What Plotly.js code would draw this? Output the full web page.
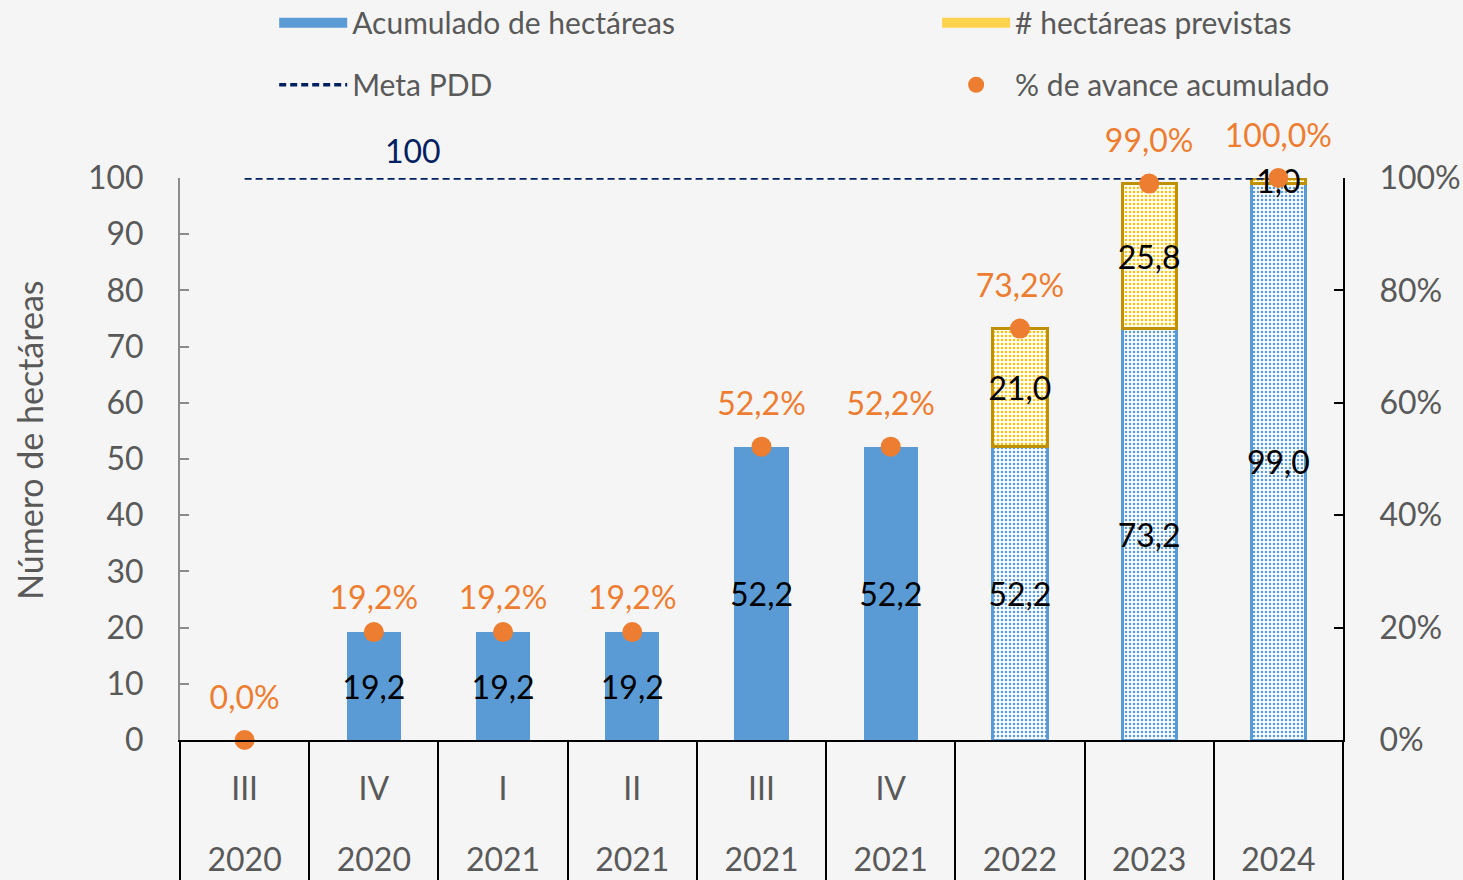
<!DOCTYPE html>
<html><head><meta charset="utf-8">
<script src="https://cdn.plot.ly/plotly-3.0.1.min.js"></script>
<style>html,body{margin:0;padding:0;background:#f5f5f5}</style>
</head><body><div id="chart" style="width:1463px;height:880px"></div>
<script>
const quarters = ['III','IV','I','II','III','IV',' ',' ',' '];
const years = ['2020','2020','2021','2021','2021','2021','2022','2023','2024'];
const acumulado = [0, 19.2, 19.2, 19.2, 52.2, 52.2, 52.2, 73.2, 99.0];
const previstas = [null, null, null, null, null, null, 21.0, 25.8, 1.0];
const metaPDD = [100, 100, 100, 100, 100, 100, 100, 100, 100];
const avance = [0, 0.192, 0.192, 0.192, 0.522, 0.522, 0.732, 0.990, 1.000];
const projected = [false, false, false, false, false, false, true, true, true];
const yTitle = 'Número de hectáreas';

const cats = quarters.map((q, i) => q + ' ' + years[i] + ' ' + i);
const empty = cats.map(() => null);
const fmt = v => v.toFixed(1).replace('.', ',');
const FONT = 'Lato, "Open Sans", sans-serif';
const BLUE = '#5B9BD5', GOLD = '#BF9000', YEL = '#FFC000', ORANGE = '#ED7D31', NAVY = '#002060', GRAY = '#595959';
const NUM = 32, TXT = 30;
// label clearance (invisible marker size) per point, as placed in the original
const labelGap = avance.map(v => (v > 0.15 && v < 0.2) ? 22 : 36);

const traces = [
  {
    type: 'bar', name: 'Acumulado de hectáreas', x: cats, y: acumulado, showlegend: false,
    text: acumulado.map(v => v > 0 ? fmt(v) : ''), textposition: 'inside', insidetextanchor: 'middle',
    textangle: 0, constraintext: 'none', cliponaxis: false,
    textfont: {family: FONT, size: NUM, color: '#000'},
    marker: {
      color: BLUE,
      line: {color: BLUE, width: projected.map(p => p ? 3 : 0)},
      pattern: {shape: projected.map(p => p ? '.' : ''), fillmode: 'replace', fgcolor: BLUE, bgcolor: '#ffffff', size: 4, solidity: 0.33}
    },
    hoverinfo: 'skip'
  },
  {
    type: 'bar', name: '# hectáreas previstas', x: cats, y: previstas, showlegend: false,
    text: previstas.map(v => v == null ? '' : fmt(v)), textposition: 'inside', insidetextanchor: 'middle',
    textangle: 0, constraintext: 'none', cliponaxis: false,
    textfont: {family: FONT, size: NUM, color: '#000'},
    marker: {
      color: YEL,
      line: {color: GOLD, width: 3},
      pattern: {shape: '.', fillmode: 'replace', fgcolor: YEL, bgcolor: '#ffffff', size: 4, solidity: 0.33}
    },
    hoverinfo: 'skip'
  },
  // legend swatches (wide rectangles like the original)
  {type: 'scatter', mode: 'lines', name: 'Acumulado de hectáreas', x: cats, y: empty,
   legend: 'legend', legendgroup: 'a', line: {color: BLUE, width: 18}, hoverinfo: 'skip'},
  {type: 'scatter', mode: 'lines', name: '# hectáreas previstas', x: cats, y: empty,
   legend: 'legend2', legendgroup: 'b', line: {color: '#FFD34D', width: 18}, hoverinfo: 'skip'},
  {
    type: 'scatter', mode: 'lines', name: 'Meta PDD', x: cats, y: metaPDD,
    legend: 'legend', legendgroup: 'c',
    line: {color: NAVY, width: 3.5, dash: '7px,4px'}, cliponaxis: false, hoverinfo: 'skip'
  },
  {
    type: 'scatter', mode: 'markers', name: '% de avance acumulado', x: cats, y: avance, yaxis: 'y2',
    legend: 'legend2', legendgroup: 'd',
    marker: {color: ORANGE, size: 20}, cliponaxis: false, hoverinfo: 'skip'
  },
  {
    type: 'scatter', mode: 'markers+text', x: cats, y: avance, yaxis: 'y2', showlegend: false,
    marker: {color: ORANGE, size: labelGap, opacity: 0},
    texttemplate: '%{y:.1%}', textposition: 'top center',
    textfont: {family: FONT, size: NUM, color: ORANGE}, cliponaxis: false, hoverinfo: 'skip'
  },
  // invisible carriers for the divider axis and the year-label axis
  {type: 'scatter', mode: 'none', x: cats, y: acumulado, xaxis: 'x2', showlegend: false, hoverinfo: 'skip'},
  {type: 'scatter', mode: 'none', x: cats, y: acumulado, xaxis: 'x3', showlegend: false, hoverinfo: 'skip'}
];

const legendBase = {xanchor: 'left', yanchor: 'top', orientation: 'v', traceorder: 'grouped',
  tracegroupgap: 20, itemwidth: 68, bgcolor: 'rgba(0,0,0,0)', font: {family: FONT, size: TXT, color: GRAY}};

const layout = {
  width: 1463, height: 880,
  margin: {l: 180, r: 120, t: 178, b: 140, autoexpand: false},
  paper_bgcolor: '#f5f5f5', plot_bgcolor: 'rgba(0,0,0,0)',
  separators: ',.',
  font: {family: FONT, size: TXT, color: GRAY},
  barmode: 'stack', bargap: 0.58,
  showlegend: true,
  legend: Object.assign({x: 0.081, y: 1.3225}, legendBase),
  legend2: Object.assign({x: 0.651, y: 1.3225}, legendBase),
  xaxis: {
    type: 'category', range: [-0.5, 8.5], showline: true, linecolor: '#000', linewidth: 2,
    ticks: '', showgrid: false, tickfont: {family: FONT, size: NUM, color: GRAY}, ticklabelstandoff: 20,
    tickangle: 0, tickvals: cats, ticktext: quarters
  },
  xaxis2: {
    overlaying: 'x', anchor: 'y', side: 'bottom', type: 'category', range: [-0.5, 8.5],
    tickson: 'boundaries', ticks: 'outside', ticklen: 150, tickwidth: 2, tickcolor: '#000',
    showticklabels: false, showgrid: false, zeroline: false, showline: false
  },
  xaxis3: {
    overlaying: 'x', anchor: 'y', side: 'bottom', type: 'category', range: [-0.5, 8.5],
    ticks: '', showticklabels: true, ticklabelstandoff: 98, showgrid: false, zeroline: false, showline: false,
    tickfont: {family: FONT, size: NUM, color: GRAY}, tickangle: 0, tickvals: cats, ticktext: years
  },
  yaxis: {
    range: [0, 100], dtick: 10, showgrid: false, zeroline: false, showline: true, linecolor: '#8c8c8c', linewidth: 2,
    ticks: 'inside', ticklen: 9, tickwidth: 2, tickcolor: '#8c8c8c', ticklabelstandoff: 28,
    tickfont: {family: FONT, size: NUM, color: GRAY}
  },
  yaxis2: {
    overlaying: 'y', side: 'right', range: [0, 1], dtick: 0.2, tickformat: '.0%', showgrid: false, zeroline: false,
    showline: true, linecolor: '#000', linewidth: 2, ticks: 'inside', ticklen: 9, tickwidth: 2, tickcolor: '#000',
    ticklabelstandoff: 28, tickfont: {family: FONT, size: NUM, color: GRAY}
  },
  annotations: [
    {xref: 'x', yref: 'y', x: 1.3, y: metaPDD[0], text: String(metaPDD[0]), showarrow: false, yanchor: 'bottom', yshift: 6,
     font: {family: FONT, size: NUM, color: NAVY}},
    {xref: 'paper', yref: 'paper', x: -0.129, y: 0.534, xanchor: 'center', yanchor: 'middle', textangle: -90,
     text: yTitle, showarrow: false, font: {family: FONT, size: 34, color: GRAY}}
  ]
};

Plotly.newPlot('chart', traces, layout, {displayModeBar: false, staticPlot: true});
</script></body></html>
